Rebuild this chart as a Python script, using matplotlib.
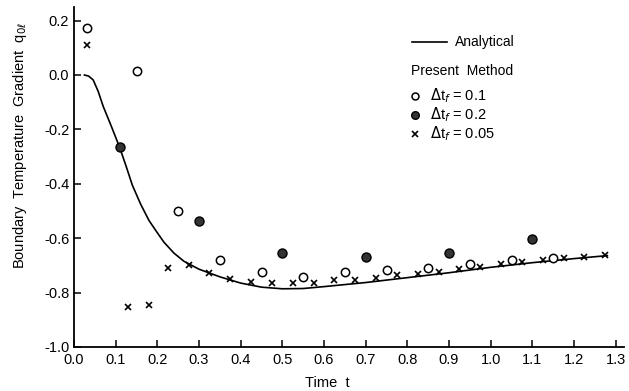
#!/usr/bin/env python3
"""
Boundary temperature gradient vs time: analytical curve and present method.
"""

import matplotlib
matplotlib.use('Agg')
import matplotlib.pyplot as plt
from matplotlib.lines import Line2D

plt.rcParams['font.family'] = ['Liberation Sans', 'DejaVu Sans']
plt.rcParams['axes.unicode_minus'] = False

# analytical solution
t_analytical = [0.025, 0.035, 0.046, 0.058, 0.07, 0.09, 0.11, 0.125, 0.14,
                0.16, 0.18, 0.2, 0.216, 0.24, 0.264, 0.3, 0.35, 0.4, 0.45,
                0.5, 0.55, 0.6, 0.7, 0.8, 0.9, 1.0, 1.1, 1.2, 1.28]
q_analytical = [0.0, -0.004, -0.018, -0.06, -0.115, -0.19, -0.268, -0.335,
                -0.405, -0.475, -0.535, -0.58, -0.615, -0.655, -0.685, -0.714,
                -0.742, -0.765, -0.78, -0.786, -0.785, -0.778, -0.763, -0.745,
                -0.727, -0.707, -0.69, -0.675, -0.664]

# present method, dt_f = 0.1 (open circles)
t_dt01 = [0.03, 0.15, 0.25, 0.35, 0.45, 0.55, 0.65, 0.75, 0.85, 0.95, 1.05, 1.15]
q_dt01 = [0.173, 0.015, -0.50, -0.68, -0.724, -0.743, -0.725, -0.718,
          -0.71, -0.695, -0.68, -0.672]

# present method, dt_f = 0.2 (filled circles)
t_dt02 = [0.11, 0.30, 0.50, 0.70, 0.90, 1.10]
q_dt02 = [-0.266, -0.535, -0.656, -0.668, -0.653, -0.602]

# present method, dt_f = 0.05 (crosses)
t_dt005 = [0.03, 0.13, 0.18, 0.225, 0.275, 0.325, 0.375, 0.425, 0.475, 0.525,
           0.575, 0.625, 0.675, 0.725, 0.775, 0.825, 0.875, 0.925, 0.975,
           1.025, 1.075, 1.125, 1.175, 1.225, 1.275]
q_dt005 = [0.11, -0.853, -0.845, -0.71, -0.70, -0.727, -0.75, -0.76, -0.764,
           -0.765, -0.765, -0.754, -0.754, -0.745, -0.736, -0.731, -0.724,
           -0.714, -0.705, -0.695, -0.688, -0.68, -0.673, -0.668, -0.662]

x_ticks = [0.0, 0.1, 0.2, 0.3, 0.4, 0.5, 0.6, 0.7, 0.8, 0.9, 1.0, 1.1, 1.2, 1.3]
y_ticks = [-1.0, -0.8, -0.6, -0.4, -0.2, 0.0, 0.2]

W, H = 629, 391
fig = plt.figure(figsize=(W / 100, H / 100), dpi=100)
ax = fig.add_axes([74 / W, 1 - 347 / H, 550 / W, 340 / H])

ax.plot(t_analytical, q_analytical, color='black', linewidth=1.2)
ax.plot(t_dt01, q_dt01, linestyle='none', marker='o', markersize=6,
        markerfacecolor='white', markeredgecolor='black', markeredgewidth=1.1)
ax.plot(t_dt02, q_dt02, linestyle='none', marker='o', markersize=6.5,
        markerfacecolor='#333333', markeredgecolor='black', markeredgewidth=1.0)
ax.plot(t_dt005, q_dt005, linestyle='none', marker='x', markersize=5,
        color='black', markeredgewidth=1.2)

ax.set_xlim(0, 1.32)
ax.set_ylim(-1.0, 0.25)
ax.set_xticks(x_ticks)
ax.set_xticklabels([f'{v:.1f}' for v in x_ticks])
ax.set_yticks(y_ticks)
ax.set_yticklabels([f'{v:.1f}' for v in y_ticks])
ax.tick_params(direction='in', length=5, width=1.1, labelsize=10.5,
               colors='black')
ax.tick_params(axis='x', pad=4)
ax.spines['top'].set_visible(False)
ax.spines['right'].set_visible(False)
ax.spines['left'].set_linewidth(1.3)
ax.spines['bottom'].set_linewidth(1.3)

fig.text(20 / W, 1 - 145 / H, r'Boundary  Temperature  Gradient  q$_{0\ell}$',
         rotation=90, ha='center', va='center', fontsize=10.5)
fig.text(327 / W, 1 - 383 / H, 'Time  t', ha='center', va='center',
         fontsize=10.5)

# hand-made legend
def fx(px):
    return px / W

def fy(py):
    return 1 - py / H

fig.add_artist(Line2D([fx(412), fx(447)], [fy(42), fy(42)], color='black',
                      linewidth=1.2))
fig.text(fx(455), fy(42), 'Analytical', ha='left', va='center', fontsize=10)
fig.text(fx(411), fy(71), 'Present  Method', ha='left', va='center',
         fontsize=10)
legend_rows = [
    (96, dict(marker='o', markersize=5, markerfacecolor='white',
              markeredgecolor='black', markeredgewidth=1.1), '0.1'),
    (115, dict(marker='o', markersize=5.5, markerfacecolor='#333333',
               markeredgecolor='black'), '0.2'),
    (134, dict(marker='x', markersize=4.5, color='black',
               markeredgewidth=1.2), '0.05'),
]
for py, style, label in legend_rows:
    fig.add_artist(Line2D([fx(415)], [fy(py)], linestyle='none', **style))
    fig.text(fx(430), fy(py), r'$\Delta$t$_f$ = ' + label, ha='left',
             va='center', fontsize=10.5)

fig.savefig('out.png', dpi=100)
